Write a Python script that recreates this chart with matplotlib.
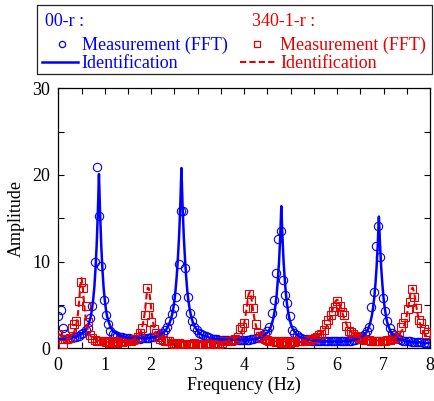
import numpy as np
import matplotlib
matplotlib.use("Agg")
import matplotlib.pyplot as plt
from matplotlib.patches import Rectangle
from matplotlib.lines import Line2D
from matplotlib.ticker import MultipleLocator

# ---------------- data ----------------
FFT_DF = 1 / 20.48          # FFT frequency resolution (Hz)
LINE_DF = 0.025             # sampling of the identified curves (Hz)

blue_meas = [
    3.7, 4.4, 2.3, 1.6, 1.1, 1.2, 1.2, 1.3, 1.3, 1.4,
    1.6, 1.8, 2.1, 2.4, 3.5, 4.9, 10.0, 20.9, 15.3, 9.5,
    5.6, 3.9, 2.8, 2.0, 1.7, 1.5, 1.4, 1.3, 1.3, 1.2,
    1.2, 1.2, 1.1, 1.1, 1.1, 1.1, 1.1, 1.2, 1.2, 1.2,
    1.2, 1.3, 1.3, 1.4, 1.5, 1.6, 1.8, 2.1, 2.5, 3.1,
    4.0, 4.6, 5.9, 9.7, 15.8, 15.8, 9.3, 5.9, 4.1, 3.1,
    2.5, 2.1, 1.8, 1.6, 1.5, 1.4, 1.3, 1.2, 1.1, 1.1,
    1.1, 1.0, 1.0, 1.0, 1.0, 1.0, 1.0, 1.0, 1.0, 1.0,
    1.0, 1.0, 1.0, 1.0, 1.0, 1.1, 1.1, 1.2, 1.2, 1.3,
    1.5, 1.7, 2.0, 2.5, 4.1, 5.6, 8.7, 12.6, 13.5, 7.9,
    6.2, 5.2, 3.7, 2.1, 1.8, 1.5, 1.3, 1.2, 1.1, 1.1,
    1.0, 1.0, 0.9, 0.9, 0.9, 0.9, 0.8, 0.8, 0.8, 0.8,
    0.8, 0.8, 0.8, 0.8, 0.8, 0.8, 0.9, 0.9, 0.9, 0.9,
    1.0, 1.0, 1.1, 1.2, 1.4, 1.6, 2.0, 2.5, 4.8, 6.5,
    11.8, 14.1, 10.5, 5.8, 4.3, 3.1, 2.3, 1.8, 1.5, 1.3,
    1.1, 1.0, 0.9, 0.9, 0.8, 0.8, 0.7, 0.7, 0.7, 0.7,
    0.7, 0.6, 0.6, 0.6]

red_meas = [
    1.6, 1.1, 0.5, 1.1, 1.1, 1.2, 2.3, 2.8, 3.1, 5.5,
    7.7, 7.0, 4.9, 3.0, 1.5, 1.2, 1.0, 0.9, 0.8, 0.8,
    0.8, 0.7, 0.9, 0.6, 0.8, 0.7, 0.6, 0.8, 0.7, 0.8,
    0.8, 0.8, 0.9, 1.0, 1.1, 1.3, 1.8, 2.4, 3.9, 7.0,
    4.8, 3.0, 2.2, 1.8, 1.3, 1.1, 1.0, 0.9, 0.8, 0.8,
    0.6, 0.5, 0.4, 0.6, 0.5, 0.4, 0.5, 0.3, 0.5, 0.4,
    0.6, 0.4, 0.5, 0.3, 0.4, 0.5, 0.4, 0.6, 0.5, 0.4,
    0.6, 0.5, 0.6, 0.8, 0.8, 0.8, 0.9, 1.0, 1.1, 1.3,
    2.2, 2.5, 2.9, 4.6, 6.3, 5.6, 4.6, 2.8, 1.8, 1.4,
    1.2, 1.1, 1.0, 0.9, 0.9, 0.8, 0.7, 0.8, 0.6, 0.8,
    0.7, 0.8, 0.6, 0.8, 0.7, 0.8, 0.8, 0.9, 0.9, 0.9,
    1.0, 1.0, 1.1, 1.2, 1.3, 1.5, 1.7, 2.1, 2.8, 3.3,
    3.8, 4.3, 4.8, 5.5, 4.9, 4.2, 3.8, 2.6, 2.0, 1.9,
    1.6, 1.4, 1.3, 1.2, 1.1, 1.0, 1.0, 1.0, 0.9, 0.9,
    0.9, 0.9, 0.9, 0.9, 0.9, 1.0, 1.0, 1.1, 1.2, 1.3,
    1.5, 2.5, 2.9, 3.6, 4.5, 5.3, 6.8, 5.9, 4.6, 3.3,
    2.9, 2.2, 1.7, 1.9]

blue_ident = [
    1.1, 1.1, 1.1, 1.1, 1.1, 1.1, 1.1, 1.1, 1.2, 1.2,
    1.2, 1.2, 1.2, 1.3, 1.3, 1.3, 1.4, 1.4, 1.5, 1.6,
    1.6, 1.8, 1.9, 2.0, 2.2, 2.5, 2.8, 3.2, 3.7, 4.5,
    5.6, 7.0, 9.1, 11.8, 15.5, 20.1, 15.5, 11.8, 9.1, 7.0,
    5.6, 4.5, 3.7, 3.2, 2.8, 2.5, 2.2, 2.0, 1.9, 1.8,
    1.7, 1.6, 1.5, 1.5, 1.4, 1.4, 1.3, 1.3, 1.3, 1.2,
    1.2, 1.2, 1.2, 1.2, 1.2, 1.2, 1.2, 1.2, 1.2, 1.2,
    1.2, 1.2, 1.2, 1.2, 1.2, 1.2, 1.2, 1.2, 1.2, 1.2,
    1.3, 1.3, 1.3, 1.3, 1.4, 1.4, 1.5, 1.5, 1.6, 1.7,
    1.8, 1.9, 2.0, 2.2, 2.4, 2.7, 3.0, 3.4, 3.9, 4.6,
    5.5, 6.8, 8.4, 10.5, 13.0, 16.4, 20.8, 16.4, 13.0, 10.5,
    8.4, 6.7, 5.5, 4.6, 3.9, 3.4, 2.9, 2.6, 2.4, 2.2,
    2.0, 1.8, 1.7, 1.6, 1.5, 1.5, 1.4, 1.4, 1.3, 1.3,
    1.2, 1.2, 1.2, 1.1, 1.1, 1.1, 1.1, 1.1, 1.1, 1.0,
    1.0, 1.0, 1.0, 1.0, 1.0, 1.0, 1.0, 1.0, 1.0, 1.0,
    1.0, 1.0, 1.0, 1.0, 1.0, 1.0, 1.0, 1.0, 1.0, 1.0,
    1.0, 1.0, 1.0, 1.0, 1.0, 1.0, 1.0, 1.1, 1.1, 1.1,
    1.1, 1.1, 1.2, 1.2, 1.3, 1.3, 1.4, 1.5, 1.6, 1.7,
    1.8, 2.0, 2.2, 2.5, 2.9, 3.4, 4.1, 5.0, 6.2, 7.9,
    9.9, 12.7, 16.4, 12.7, 9.9, 7.9, 6.2, 5.0, 4.1, 3.4,
    2.9, 2.5, 2.2, 2.0, 1.8, 1.6, 1.5, 1.4, 1.3, 1.3,
    1.2, 1.2, 1.1, 1.1, 1.0, 1.0, 1.0, 1.0, 1.0, 0.9,
    0.9, 0.9, 0.9, 0.9, 0.9, 0.9, 0.9, 0.8, 0.8, 0.8,
    0.8, 0.8, 0.8, 0.8, 0.8, 0.8, 0.8, 0.8, 0.8, 0.8,
    0.8, 0.8, 0.8, 0.8, 0.8, 0.8, 0.8, 0.9, 0.9, 0.9,
    0.9, 0.9, 0.9, 0.9, 1.0, 1.0, 1.0, 1.1, 1.1, 1.2,
    1.2, 1.3, 1.4, 1.5, 1.7, 1.8, 2.0, 2.3, 2.7, 3.2,
    3.8, 4.7, 5.8, 7.4, 9.3, 11.9, 15.2, 11.9, 9.3, 7.4,
    5.8, 4.7, 3.8, 3.1, 2.6, 2.3, 2.0, 1.8, 1.6, 1.5,
    1.3, 1.3, 1.2, 1.1, 1.0, 1.0, 1.0, 0.9, 0.9, 0.9,
    0.8, 0.8, 0.8, 0.8, 0.7, 0.7, 0.7, 0.7, 0.7, 0.7,
    0.7, 0.7, 0.7, 0.6, 0.6, 0.6, 0.6, 0.6, 0.6, 0.6,
    0.6]

red_ident = [
    1.7, 1.6, 1.5, 1.3, 1.2, 1.1, 1.1, 1.1, 1.1, 1.1,
    1.2, 1.3, 1.5, 1.7, 2.0, 2.4, 3.1, 4.1, 5.5, 7.2,
    8.1, 7.2, 5.5, 4.1, 3.1, 2.4, 1.9, 1.6, 1.4, 1.3,
    1.1, 1.1, 1.0, 0.9, 0.9, 0.9, 0.8, 0.8, 0.8, 0.8,
    0.8, 0.8, 0.7, 0.7, 0.7, 0.7, 0.7, 0.7, 0.7, 0.7,
    0.7, 0.7, 0.7, 0.7, 0.7, 0.7, 0.8, 0.8, 0.8, 0.8,
    0.8, 0.8, 0.9, 0.9, 1.0, 1.0, 1.1, 1.2, 1.3, 1.4,
    1.6, 1.9, 2.3, 2.9, 3.7, 4.8, 6.1, 7.0, 6.9, 5.8,
    4.5, 3.5, 2.7, 2.2, 1.8, 1.6, 1.4, 1.2, 1.1, 1.1,
    1.0, 0.9, 0.9, 0.9, 0.8, 0.8, 0.8, 0.8, 0.8, 0.7,
    0.7, 0.7, 0.7, 0.7, 0.7, 0.7, 0.7, 0.7, 0.7, 0.7,
    0.7, 0.7, 0.7, 0.7, 0.7, 0.7, 0.7, 0.7, 0.7, 0.7,
    0.7, 0.7, 0.7, 0.7, 0.7, 0.7, 0.7, 0.7, 0.7, 0.7,
    0.7, 0.7, 0.7, 0.7, 0.7, 0.7, 0.7, 0.7, 0.7, 0.7,
    0.7, 0.8, 0.8, 0.8, 0.8, 0.8, 0.8, 0.9, 0.9, 0.9,
    1.0, 1.0, 1.1, 1.2, 1.3, 1.4, 1.5, 1.7, 2.0, 2.4,
    2.9, 3.6, 4.5, 5.5, 6.3, 6.5, 6.0, 5.1, 4.1, 3.3,
    2.7, 2.2, 1.9, 1.7, 1.5, 1.4, 1.2, 1.2, 1.1, 1.0,
    1.0, 1.0, 0.9, 0.9, 0.9, 0.9, 0.8, 0.8, 0.8, 0.8,
    0.8, 0.8, 0.8, 0.8, 0.8, 0.8, 0.8, 0.8, 0.8, 0.8,
    0.8, 0.8, 0.8, 0.8, 0.8, 0.8, 0.8, 0.8, 0.9, 0.9,
    0.9, 0.9, 0.9, 0.9, 1.0, 1.0, 1.0, 1.0, 1.1, 1.1,
    1.2, 1.2, 1.3, 1.4, 1.4, 1.5, 1.6, 1.8, 1.9, 2.1,
    2.3, 2.5, 2.8, 3.1, 3.5, 3.9, 4.4, 4.8, 5.2, 5.5,
    5.6, 5.5, 5.2, 4.8, 4.4, 3.9, 3.5, 3.2, 2.8, 2.5,
    2.3, 2.1, 1.9, 1.8, 1.7, 1.5, 1.5, 1.4, 1.3, 1.3,
    1.2, 1.2, 1.1, 1.1, 1.1, 1.0, 1.0, 1.0, 1.0, 1.0,
    0.9, 0.9, 0.9, 0.9, 0.9, 0.9, 0.9, 0.9, 0.9, 0.9,
    0.9, 1.0, 1.0, 1.0, 1.0, 1.0, 1.1, 1.1, 1.1, 1.2,
    1.3, 1.3, 1.4, 1.5, 1.7, 1.9, 2.1, 2.4, 2.7, 3.2,
    3.8, 4.5, 5.4, 6.2, 6.8, 7.0, 6.6, 5.9, 5.0, 4.2,
    3.5, 3.0, 2.6, 2.2, 2.0, 1.8, 1.6, 1.4, 1.3, 1.2,
    1.2]

freq_meas = np.arange(len(blue_meas)) * FFT_DF
freq_line = np.arange(len(blue_ident)) * LINE_DF

x_ticks = [0, 1, 2, 3, 4, 5, 6, 7, 8]
y_ticks = [0, 10, 20, 30]

series_names = ['00-r :', '340-1-r :']
legend_labels = ['Measurement (FFT)', 'Identification']

# ---------------- style ----------------
plt.rcParams['font.family'] = ['Liberation Serif', 'DejaVu Serif']
plt.rcParams['font.size'] = 13

BLUE = '#0000ff'
RED = '#e60000'
W, H = 434, 401

fig = plt.figure(figsize=(W / 100, H / 100), dpi=100)
ax = fig.add_axes([58.3 / W, 1 - 348.3 / H, 371.7 / W, 260 / H])

ax.plot(freq_meas, blue_meas, 'o', mfc='none', mec=BLUE, ms=6, mew=0.8, zorder=2)
ax.plot(freq_meas, red_meas, 's', mfc='none', mec=RED, ms=6, mew=0.8, zorder=3)
ax.plot(freq_line, blue_ident, '-', color=BLUE, lw=1.8, zorder=4)
ax.plot(freq_line, red_ident, '--', color=RED, lw=1.5, dashes=(3, 1.5), zorder=5)

ax.set_xlim(0, 8)
ax.set_ylim(0, 30)
ax.set_xticks(x_ticks)
ax.set_yticks(y_ticks)
ax.xaxis.set_minor_locator(MultipleLocator(0.5))
ax.yaxis.set_minor_locator(MultipleLocator(5))
ax.tick_params(which='both', direction='in', top=True, right=True,
               length=4, width=0.8, labelsize=13, pad=6)
for sp in ax.spines.values():
    sp.set_linewidth(0.9)
ax.set_xlabel('Frequency (Hz)', fontsize=13, labelpad=2)
ax.set_ylabel('Amplitude', fontsize=13, labelpad=5)

# ---------------- legend box (figure coordinates) ----------------
def fx(px):
    return px / W

def fy(py):
    return 1 - py / H

fig.patches.append(Rectangle((fx(37.3), fy(74)), fx(432) - fx(37.3), fy(5.3) - fy(74),
                             transform=fig.transFigure, fill=False, ec='#222222', lw=0.9))
fig.text(fx(45), fy(22), series_names[0], color=BLUE, va='center', ha='left')
fig.text(fx(251.7), fy(22), series_names[1], color=RED, va='center', ha='left')
fig.lines.append(Line2D([fx(61.7)], [fy(43.5)], marker='o', mfc='none', mec=BLUE,
                        ms=4.5, mew=0.9, transform=fig.transFigure))
fig.lines.append(Line2D([fx(256.7)], [fy(43.5)], marker='s', mfc='none', mec=RED,
                        ms=4.5, mew=0.9, transform=fig.transFigure))
fig.text(fx(81.7), fy(45), legend_labels[0], color=BLUE, va='center', ha='left')
fig.text(fx(280), fy(45), legend_labels[0], color=RED, va='center', ha='left')
fig.lines.append(Line2D([fx(41.7), fx(78.3)], [fy(61.5), fy(61.5)], color=BLUE, lw=1.8,
                        transform=fig.transFigure))
fig.lines.append(Line2D([fx(240), fx(276.7)], [fy(61.5), fy(61.5)], color=RED, lw=1.5,
                        ls='--', dashes=(3, 1.5), transform=fig.transFigure))
fig.text(fx(81.7), fy(64), legend_labels[1], color=BLUE, va='center', ha='left')
fig.text(fx(280), fy(64), legend_labels[1], color=RED, va='center', ha='left')

fig.savefig('out.png', dpi=100)
